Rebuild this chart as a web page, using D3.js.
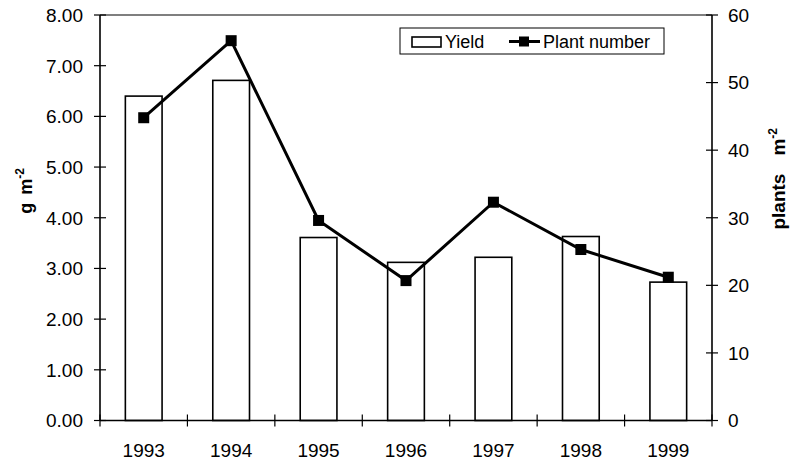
<!DOCTYPE html>
<html><head><meta charset="utf-8">
<script src="https://cdn.jsdelivr.net/npm/d3@7"></script>
<style>body{margin:0;background:#fff}svg{display:block}text{font-family:"Liberation Sans",Arial,sans-serif}</style>
</head><body>
<svg id="c" width="793" height="465"></svg>
<script>
const years = ["1993","1994","1995","1996","1997","1998","1999"];
const yieldVals = [6.40, 6.71, 3.61, 3.12, 3.22, 3.63, 2.73];
const plantVals = [44.8, 56.2, 29.6, 20.7, 32.3, 25.3, 21.2];
const leftTicks = [0,1,2,3,4,5,6,7,8];
const rightTicks = [0,10,20,30,40,50,60];

const svg = d3.select("#c");
const L = 100, R = 712, T = 15, B = 420.5;
const x = d3.scaleBand().domain(years).range([L, R]);
const yL = d3.scaleLinear().domain([0, 8]).range([B, T]);
const yR = d3.scaleLinear().domain([0, 60]).range([B, T]);
const bw = x.bandwidth() * 0.42;

// bars
svg.append("g").selectAll("rect").data(years).join("rect")
  .attr("x", (d,i) => x(d) + x.bandwidth()/2 - bw/2)
  .attr("y", (d,i) => yL(yieldVals[i]))
  .attr("width", bw)
  .attr("height", (d,i) => B - yL(yieldVals[i]))
  .attr("fill", "#fff").attr("stroke", "#000").attr("stroke-width", 1.6);

// frame lines
const g = svg.append("g").attr("stroke", "#000").attr("stroke-width", 1.6);
g.append("line").attr("x1", L).attr("x2", R).attr("y1", T).attr("y2", T).attr("stroke-width", 1.2);
g.append("line").attr("x1", L).attr("x2", L).attr("y1", T).attr("y2", B);
g.append("line").attr("x1", R).attr("x2", R).attr("y1", T).attr("y2", B);
g.append("line").attr("x1", L).attr("x2", R).attr("y1", B).attr("y2", B);

// left axis ticks (cross)
const lt = svg.append("g");
lt.selectAll("line").data(leftTicks).join("line")
  .attr("x1", L-6).attr("x2", L+6).attr("y1", d => yL(d)).attr("y2", d => yL(d))
  .attr("stroke", "#000").attr("stroke-width", 1.2);
lt.selectAll("text").data(leftTicks).join("text")
  .attr("x", L-17).attr("y", d => yL(d)).attr("dy", "0.36em")
  .attr("text-anchor", "end").attr("font-size", 19).text(d => d.toFixed(2));

// right axis ticks
const rt = svg.append("g");
rt.selectAll("line").data(rightTicks).join("line")
  .attr("x1", R-6).attr("x2", R+6).attr("y1", d => yR(d)).attr("y2", d => yR(d))
  .attr("stroke", "#000").attr("stroke-width", 1.2);
rt.selectAll("text").data(rightTicks).join("text")
  .attr("x", R+16).attr("y", d => yR(d)).attr("dy", "0.36em")
  .attr("text-anchor", "start").attr("font-size", 19).text(d => d);

// x axis ticks at category boundaries
const bounds = years.map(d => x(d)).concat([R]);
svg.append("g").selectAll("line").data(bounds).join("line")
  .attr("x1", d => d).attr("x2", d => d).attr("y1", B-6).attr("y2", B+6)
  .attr("stroke", "#000").attr("stroke-width", 1.2);
svg.append("g").selectAll("text").data(years).join("text")
  .attr("x", d => x(d) + x.bandwidth()/2).attr("y", 457)
  .attr("text-anchor", "middle").attr("font-size", 19).text(d => d);

// line
const line = d3.line().x((d,i) => x(years[i]) + x.bandwidth()/2).y(d => yR(d));
svg.append("path").datum(plantVals).attr("d", line)
  .attr("fill", "none").attr("stroke", "#000").attr("stroke-width", 3);
svg.append("g").selectAll("rect").data(plantVals).join("rect")
  .attr("x", (d,i) => x(years[i]) + x.bandwidth()/2 - 5.5)
  .attr("y", d => yR(d) - 5.5).attr("width", 11).attr("height", 11).attr("fill", "#000");

// axis titles
const lab = svg.append("text").attr("transform", "translate(32,168) rotate(-90)")
  .attr("text-anchor", "end").attr("font-size", 18).attr("font-weight", "bold");
lab.append("tspan").text("g");
lab.append("tspan").attr("dx", 8).text("m");
lab.append("tspan").attr("dy", -8).attr("font-size", 12).text("-2");
const rlab = svg.append("text").attr("transform", "translate(785,128) rotate(-90)")
  .attr("text-anchor", "end").attr("font-size", 19).attr("font-weight", "bold");
rlab.append("tspan").text("plants");
rlab.append("tspan").attr("dx", 18).text("m");
rlab.append("tspan").attr("dy", -8).attr("font-size", 12).text("-2");

// legend
const lg = svg.append("g");
lg.append("rect").attr("x", 400).attr("y", 28).attr("width", 264).attr("height", 26)
  .attr("fill", "#fff").attr("stroke", "#000").attr("stroke-width", 1);
lg.append("rect").attr("x", 412).attr("y", 37).attr("width", 29).attr("height", 10)
  .attr("fill", "#fff").attr("stroke", "#000").attr("stroke-width", 1.6);
lg.append("text").attr("x", 445).attr("y", 48).attr("font-size", 18).text("Yield");
lg.append("line").attr("x1", 509).attr("x2", 540).attr("y1", 41.5).attr("y2", 41.5)
  .attr("stroke", "#000").attr("stroke-width", 3);
lg.append("rect").attr("x", 519).attr("y", 36.5).attr("width", 10).attr("height", 10).attr("fill", "#000");
lg.append("text").attr("x", 543).attr("y", 48).attr("font-size", 18).text("Plant number");
</script>
</body></html>
